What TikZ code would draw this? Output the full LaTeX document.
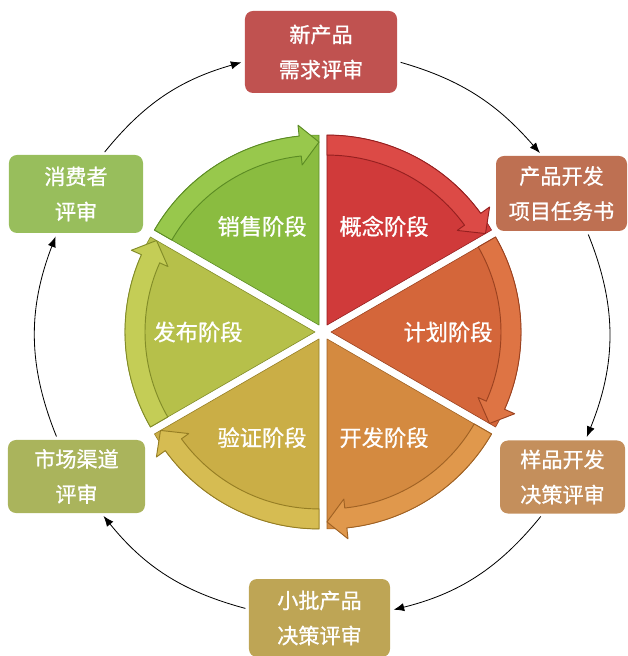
\documentclass[tikz,border=0pt]{standalone}
\usepackage{fontspec}
\newfontfamily\cjk[FakeBold=0.9]{Noto Sans CJK SC}
\usetikzlibrary{arrows.meta}

\definecolor{needsfill}{RGB}{192,82,80}
\definecolor{taskfill}{RGB}{190,112,82}
\definecolor{samplefill}{RGB}{196,143,92}
\definecolor{batchfill}{RGB}{190,165,85}
\definecolor{channelfill}{RGB}{170,180,92}
\definecolor{consumerfill}{RGB}{152,190,92}

\definecolor{conceptfill}{RGB}{208,58,58}
\definecolor{conceptband}{RGB}{220,74,70}
\definecolor{conceptedge}{RGB}{150,32,32}
\definecolor{planfill}{RGB}{212,102,58}
\definecolor{planband}{RGB}{222,116,68}
\definecolor{planedge}{RGB}{155,66,32}
\definecolor{devfill}{RGB}{212,138,64}
\definecolor{devband}{RGB}{224,152,76}
\definecolor{devedge}{RGB}{160,98,36}
\definecolor{verifyfill}{RGB}{202,174,70}
\definecolor{verifyband}{RGB}{214,188,82}
\definecolor{verifyedge}{RGB}{150,126,36}
\definecolor{releasefill}{RGB}{182,192,74}
\definecolor{releaseband}{RGB}{196,205,86}
\definecolor{releaseedge}{RGB}{130,140,40}
\definecolor{salesfill}{RGB}{138,188,64}
\definecolor{salesband}{RGB}{152,200,76}
\definecolor{salesedge}{RGB}{92,140,36}

\tikzset{
  review/.style={rounded corners=0.24cm,text=white,align=center,inner sep=0pt,
    font=\cjk\fontsize{18}{30}\selectfont},
  stagelabel/.style={text=white,inner sep=0pt,font=\cjk\fontsize{19}{22}\selectfont},
  slice/.style={line width=0.5pt,line join=round},
  band/.style={line width=0.8pt,line join=round},
  flow/.style={-{Latex[length=9pt,width=7pt]},line width=0.7pt,shorten >=3pt,shorten <=3pt}
}

\begin{document}
\begin{tikzpicture}[x=0.03cm,y=0.03cm]
\useasboundingbox (-323,-324) rectangle (304,332);

% stages
\begin{scope}[shift={(60:8)}]
\draw[slice,fill=conceptfill,draw=conceptedge](0,0)--(90:190) arc[start angle=90,end angle=30,radius=190]--cycle;
\draw[band,fill=conceptband,draw=conceptedge](90:190) arc[start angle=90,end angle=36,radius=190]--(36:201)--(30:183)--(36:161)--(36:170) arc[start angle=36,end angle=90,radius=170]--cycle;
\end{scope}
\begin{scope}[shift={(0:8)}]
\draw[slice,fill=planfill,draw=planedge](0,0)--(30:190) arc[start angle=30,end angle=-30,radius=190]--cycle;
\draw[band,fill=planband,draw=planedge](30:190) arc[start angle=30,end angle=-24,radius=190]--(-24:201)--(-30:183)--(-24:161)--(-24:170) arc[start angle=-24,end angle=30,radius=170]--cycle;
\end{scope}
\begin{scope}[shift={(-60:8)}]
\draw[slice,fill=devfill,draw=devedge](0,0)--(-30:190) arc[start angle=-30,end angle=-90,radius=190]--cycle;
\draw[band,fill=devband,draw=devedge](-30:190) arc[start angle=-30,end angle=-84,radius=190]--(-84:201)--(-90:183)--(-84:161)--(-84:170) arc[start angle=-84,end angle=-30,radius=170]--cycle;
\end{scope}
\begin{scope}[shift={(-120:8)}]
\draw[slice,fill=verifyfill,draw=verifyedge](0,0)--(-90:190) arc[start angle=-90,end angle=-150,radius=190]--cycle;
\draw[band,fill=verifyband,draw=verifyedge](-90:190) arc[start angle=-90,end angle=-144,radius=190]--(-144:201)--(-150:183)--(-144:161)--(-144:170) arc[start angle=-144,end angle=-90,radius=170]--cycle;
\end{scope}
\begin{scope}[shift={(180:8)}]
\draw[slice,fill=releasefill,draw=releaseedge](0,0)--(210:190) arc[start angle=210,end angle=150,radius=190]--cycle;
\draw[band,fill=releaseband,draw=releaseedge](210:190) arc[start angle=210,end angle=156,radius=190]--(156:201)--(150:183)--(156:161)--(156:170) arc[start angle=156,end angle=210,radius=170]--cycle;
\end{scope}
\begin{scope}[shift={(120:8)}]
\draw[slice,fill=salesfill,draw=salesedge](0,0)--(150:190) arc[start angle=150,end angle=90,radius=190]--cycle;
\draw[band,fill=salesband,draw=salesedge](150:190) arc[start angle=150,end angle=96,radius=190]--(96:201)--(90:183)--(96:161)--(96:170) arc[start angle=96,end angle=150,radius=170]--cycle;
\end{scope}

\node[stagelabel] (concept) at (60:122){概念阶段};
\node[stagelabel] (plan) at (0:125){计划阶段};
\node[stagelabel] (dev) at (-60:122){开发阶段};
\node[stagelabel] (verify) at (-120:122){验证阶段};
\node[stagelabel] (release) at (180:125){发布阶段};
\node[stagelabel] (sales) at (120:122){销售阶段};

% reviews
\node[review,fill=needsfill,minimum width=4.56cm,minimum height=2.46cm] (needs) at (-2,280){新产品\\需求评审};
\node[review,fill=taskfill,minimum width=3.93cm,minimum height=2.25cm] (task) at (238.5,138.5){产品开发\\项目任务书};
\node[review,fill=samplefill,minimum width=3.75cm,minimum height=2.19cm] (sample) at (239.5,-145){样品开发\\决策评审};
\node[review,fill=batchfill,minimum width=4.23cm,minimum height=2.34cm] (batch) at (-3.5,-286){小批产品\\决策评审};
\node[review,fill=channelfill,minimum width=4.11cm,minimum height=2.19cm] (channel) at (-246.5,-144.5){市场渠道\\评审};
\node[review,fill=consumerfill,minimum width=4.02cm,minimum height=2.34cm] (consumer) at (-247,138){消费者\\评审};

\draw[flow](needs.-7) to[out=-16,in=131] (task.117);
\draw[flow](task.-56) to[out=-68,in=68] (sample.58);
\draw[flow](sample.-118) to[out=-129,in=14] (batch.6);
\draw[flow](batch.173) to[out=165,in=-51] (channel.-56);
\draw[flow](channel.117) to[out=112,in=-111] (consumer.-116);
\draw[flow](consumer.56) to[out=51,in=-164] (needs.187);
\end{tikzpicture}
\end{document}
